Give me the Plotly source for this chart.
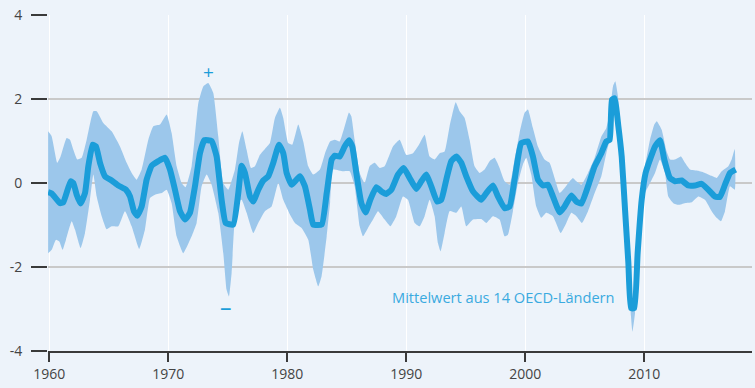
import plotly.graph_objects as go

# Mittelwert aus 14 OECD-Ländern
mean_years = [1959.9, 1960.2, 1960.9, 1961.18, 1961.79, 1962.02, 1962.3, 1962.63, 1963.0, 1963.28,
              1963.64, 1963.92, 1964.26, 1964.68, 1965.24, 1965.8, 1966.44, 1966.78, 1967.11, 1967.39,
              1967.76, 1968.18, 1968.6, 1969.16, 1969.72, 1970.14, 1970.56, 1970.98, 1971.4, 1971.82,
              1972.24, 1972.66, 1973.03, 1973.64, 1974.06, 1974.48, 1974.82, 1975.46, 1975.88, 1976.16,
              1976.44, 1976.86, 1977.14, 1977.56, 1977.98, 1978.4, 1978.82, 1979.3, 1979.66, 1979.94,
              1980.36, 1981.06, 1981.48, 1981.9, 1982.18, 1982.89, 1983.31, 1983.73, 1984.0, 1984.4,
              1984.82, 1985.18, 1985.46, 1985.8, 1986.22, 1986.58, 1986.97, 1987.48, 1987.9, 1988.32,
              1988.74, 1989.3, 1989.78, 1990.28, 1990.84, 1991.26, 1991.68, 1992.1, 1992.58, 1992.94,
              1993.36, 1993.78, 1994.2, 1994.62, 1995.04, 1995.6, 1996.3, 1996.72, 1997.28, 1997.7,
              1998.26, 1998.68, 1999.1, 1999.66, 2000.22, 2000.64, 2001.06, 2001.48, 2001.9, 2002.32,
              2002.89, 2003.3, 2003.87, 2004.29, 2004.71, 2005.27, 2005.83, 2006.39, 2006.81, 2007.09,
              2007.28, 2007.5, 2007.82, 2008.1, 2008.38, 2008.66, 2008.88, 2009.16, 2009.44, 2009.78,
              2010.11, 2010.48, 2010.9, 2011.32, 2011.68, 2012.16, 2012.58, 2013.14, 2013.7, 2014.26,
              2014.82, 2015.38, 2015.94, 2016.36, 2016.78, 2017.2, 2017.68]
mean_values = [-0.22, -0.25, -0.48, -0.46, 0.04, 0.0, -0.28, -0.49, -0.24, 0.4,
               0.91, 0.87, 0.48, 0.16, 0.06, -0.06, -0.16, -0.32, -0.67, -0.78,
               -0.56, 0.08, 0.41, 0.52, 0.6, 0.32, -0.16, -0.67, -0.87, -0.71,
               -0.08, 0.71, 1.02, 1.0, 0.63, -0.4, -0.95, -0.99, -0.24, 0.41,
               0.24, -0.32, -0.44, -0.16, 0.06, 0.16, 0.48, 0.91, 0.71, 0.24,
               -0.04, 0.16, -0.08, -0.63, -0.99, -0.99, -0.24, 0.56, 0.65, 0.63,
               0.87, 1.02, 0.87, 0.24, -0.48, -0.7, -0.4, -0.1, -0.2, -0.26,
               -0.16, 0.2, 0.36, 0.12, -0.14, 0.04, 0.2, -0.08, -0.44, -0.4,
               0.08, 0.52, 0.63, 0.48, 0.16, -0.2, -0.4, -0.24, -0.06, -0.32,
               -0.6, -0.56, 0.08, 0.95, 0.99, 0.63, 0.08, -0.06, -0.04, -0.32,
               -0.7, -0.56, -0.3, -0.44, -0.49, -0.08, 0.4, 0.71, 0.99, 1.03,
               1.98, 2.02, 1.35, 0.63, -0.63, -1.9, -2.98, -2.98, -1.67, -0.4,
               0.24, 0.56, 0.87, 1.02, 0.56, 0.12, 0.04, 0.06, -0.06, -0.06,
               -0.02, -0.16, -0.32, -0.33, -0.04, 0.24, 0.32]

# Obere Grenze der Bandbreite
upper_years = [1959.9, 1960.2, 1960.67, 1960.95, 1961.46, 1961.74, 1962.02, 1962.35, 1962.72, 1963.14,
               1963.7, 1963.98, 1964.54, 1965.24, 1965.94, 1966.5, 1966.92, 1967.34, 1967.76, 1968.32,
               1968.74, 1969.3, 1969.86, 1970.28, 1970.7, 1971.12, 1971.45, 1971.96, 1972.52, 1972.94,
               1973.36, 1973.78, 1974.2, 1974.62, 1975.04, 1975.6, 1975.94, 1976.22, 1976.58, 1976.95,
               1977.28, 1977.7, 1978.12, 1978.54, 1978.96, 1979.38, 1979.66, 1980.08, 1980.42, 1980.92,
               1981.34, 1981.76, 1982.18, 1982.74, 1983.17, 1983.59, 1983.98, 1984.4, 1984.82, 1985.18,
               1985.38, 1985.66, 1986.08, 1986.5, 1986.92, 1987.34, 1987.76, 1988.18, 1988.88, 1989.44,
               1990.0, 1990.56, 1991.06, 1991.54, 1991.96, 1992.38, 1992.8, 1993.22, 1993.64, 1994.15,
               1994.48, 1994.9, 1995.32, 1995.74, 1996.16, 1996.58, 1997.0, 1997.42, 1997.84, 1998.26,
               1998.68, 1999.1, 1999.52, 1999.94, 2000.22, 2000.64, 2001.06, 2001.62, 2002.04, 2002.46,
               2002.89, 2003.3, 2003.73, 2004.0, 2004.29, 2004.71, 2005.27, 2005.83, 2006.39, 2006.81,
               2007.09, 2007.37, 2007.56, 2007.79, 2008.1, 2008.38, 2008.66, 2008.88, 2009.16, 2009.36,
               2009.64, 2010.06, 2010.48, 2010.84, 2011.04, 2011.46, 2011.88, 2012.16, 2012.58, 2013.08,
               2013.42, 2013.84, 2014.54, 2015.1, 2015.66, 2016.08, 2016.5, 2017.06, 2017.34, 2017.6]
upper_values = [1.23, 1.11, 0.48, 0.63, 1.07, 1.03, 0.79, 0.56, 0.6, 1.03,
                1.71, 1.71, 1.43, 1.23, 0.87, 0.48, 0.24, 0.08, 0.32, 1.03,
                1.35, 1.39, 1.63, 1.19, 0.4, 0.0, -0.1, 0.4, 1.9, 2.3,
                2.38, 2.14, 1.11, 0.0, -0.16, 0.32, 0.95, 1.23, 0.79, 0.36,
                0.4, 0.67, 0.81, 0.95, 1.55, 1.79, 1.55, 0.95, 0.91, 1.39,
                0.99, 0.4, 0.2, 0.32, 0.71, 0.99, 1.03, 0.99, 1.35, 1.68,
                1.59, 1.03, 0.24, 0.0, 0.4, 0.48, 0.36, 0.4, 0.87, 1.03,
                0.67, 0.71, 0.91, 1.15, 0.63, 0.56, 0.71, 0.75, 1.35, 1.92,
                1.71, 1.55, 1.03, 0.4, 0.24, 0.32, 0.52, 0.6, 0.36, 0.04,
                -0.04, 0.56, 1.19, 1.67, 1.75, 1.31, 0.87, 0.56, 0.48, 0.12,
                -0.24, -0.12, 0.04, 0.12, 0.04, -0.04, 0.24, 0.6, 1.11, 1.31,
                1.67, 2.3, 2.42, 2.06, 0.79, -0.48, -1.75, -2.78, -2.78, -1.75,
                -0.56, 0.4, 1.03, 1.39, 1.47, 1.27, 0.75, 0.56, 0.56, 0.63,
                0.48, 0.32, 0.29, 0.24, 0.17, 0.12, 0.28, 0.4, 0.56, 0.81]

# Untere Grenze der Bandbreite
lower_years = [1959.9, 1960.2, 1960.56, 1960.84, 1961.12, 1961.4, 1961.88, 1962.16, 1962.63, 1963.0,
               1963.42, 1963.7, 1963.98, 1964.4, 1964.82, 1965.24, 1965.8, 1966.36, 1966.92, 1967.56,
               1968.04, 1968.46, 1968.88, 1969.44, 1969.86, 1970.28, 1970.7, 1971.26, 1971.96, 1972.38,
               1972.8, 1973.22, 1973.64, 1974.2, 1974.62, 1974.9, 1975.1, 1975.32, 1975.74, 1976.16,
               1976.58, 1977.14, 1977.56, 1978.12, 1978.68, 1979.24, 1979.66, 1980.22, 1980.64, 1981.2,
               1981.76, 1982.18, 1982.6, 1982.88, 1983.31, 1983.6, 1983.84, 1984.68, 1985.24, 1985.66,
               1986.08, 1986.36, 1986.78, 1987.2, 1987.62, 1988.18, 1988.66, 1989.16, 1989.72, 1990.14,
               1990.7, 1991.12, 1991.54, 1991.96, 1992.38, 1992.66, 1992.88, 1993.22, 1993.64, 1994.2,
               1994.62, 1995.04, 1995.6, 1996.3, 1996.72, 1997.28, 1997.84, 1998.26, 1998.54, 1998.96,
               1999.38, 1999.8, 2000.08, 2000.5, 2000.92, 2001.34, 2001.76, 2002.32, 2002.97, 2003.45,
               2003.87, 2004.29, 2004.76, 2005.27, 2005.83, 2006.39, 2006.81, 2007.09, 2007.28, 2007.5,
               2007.82, 2008.1, 2008.38, 2008.66, 2008.88, 2009.0, 2009.22, 2009.44, 2009.72, 2010.06,
               2010.48, 2010.9, 2011.32, 2011.74, 2012.02, 2012.44, 2012.86, 2013.42, 2013.98, 2014.54,
               2015.1, 2015.66, 2016.08, 2016.44, 2016.78, 2017.2, 2017.6]
lower_values = [-1.67, -1.59, -1.35, -1.39, -1.59, -1.35, -0.91, -1.11, -1.55, -1.19,
                -0.4, 0.2, -0.32, -0.79, -1.1, -1.03, -1.03, -0.67, -1.03, -1.57,
                -1.11, -0.36, -0.28, -0.24, -0.16, -0.48, -1.27, -1.67, -1.27, -0.95,
                -0.08, 0.2, -0.04, -0.71, -1.67, -2.54, -2.7, -2.14, -0.48, -0.4,
                -0.71, -1.19, -0.95, -0.67, -0.56, 0.0, -0.4, -0.75, -0.95, -1.07,
                -1.35, -2.06, -2.46, -2.22, -1.27, -0.45, 0.32, 0.28, 0.28, -0.08,
                -1.03, -1.27, -1.07, -0.87, -0.67, -0.87, -1.03, -0.79, -0.32, -0.4,
                -0.95, -1.03, -0.79, -0.4, -0.79, -1.43, -1.63, -1.19, -0.67, -0.71,
                -0.56, -1.03, -0.87, -0.86, -0.95, -0.79, -0.87, -1.27, -1.23, -0.67,
                0.0, 0.44, 0.6, 0.2, -0.56, -0.83, -0.71, -0.79, -1.19, -0.95,
                -0.71, -0.79, -0.95, -0.67, -0.24, 0.16, 0.71, 1.03, 1.83, 1.83,
                1.27, 0.32, -0.79, -1.83, -3.17, -3.54, -3.1, -1.9, -0.56, -0.24,
                0.0, 0.24, 0.56, 0.24, -0.32, -0.48, -0.52, -0.48, -0.46, -0.32,
                -0.4, -0.67, -0.83, -0.91, -0.67, -0.08, -0.16]

decades = [1960, 1970, 1980, 1990, 2000, 2010]
y_ticks = [-4, -2, 0, 2, 4]
y_labels = ["-4", "-2", "0", "2", "4"]

BG = "#edf3fa"
LINE = "#1b9dd9"
BAND = "#9cc7eb"
AXIS = "#3a3a3a"
FONT = "Open Sans"

fig = go.Figure()

fig.add_trace(go.Scatter(
    x=upper_years + lower_years[::-1],
    y=upper_values + lower_values[::-1],
    fill="toself", fillcolor=BAND,
    mode="lines", line=dict(width=0, shape="spline", smoothing=0.4),
    hoverinfo="skip", showlegend=False,
))

fig.add_trace(go.Scatter(
    x=mean_years, y=mean_values,
    mode="lines", line=dict(color=LINE, width=6, shape="spline", smoothing=0.4),
    showlegend=False,
))

fig.add_annotation(x=1973.36, y=2.65, text="+", showarrow=False,
                   font=dict(family=FONT, size=19, color=LINE))
fig.add_annotation(x=1974.87, y=-2.95, text="–", showarrow=False,
                   font=dict(family=FONT, size=23, color=LINE))
fig.add_annotation(x=1998.18, y=-2.71, text="Mittelwert aus 14 OECD-Ländern", showarrow=False,
                   font=dict(family=FONT, size=14.6, color="#3aaae0"))

fig.update_layout(
    width=755, height=388,
    margin=dict(l=48, r=3, t=15, b=37),
    paper_bgcolor=BG, plot_bgcolor=BG,
    font=dict(family=FONT, size=14, color="#444444"),
)

fig.update_xaxes(
    range=[1959.89, 2019.05],
    tickvals=decades, ticktext=[str(d) for d in decades],
    ticks="outside", ticklen=9, tickwidth=1.5, tickcolor=AXIS,
    showline=True, linecolor=AXIS, linewidth=1.5,
    showgrid=True, gridcolor="#ffffff", gridwidth=1,
    zeroline=False,
)
fig.update_yaxes(
    range=[-4, 4],
    tickvals=y_ticks, ticktext=y_labels,
    ticks="outside", ticklen=16, tickwidth=1.5, tickcolor=AXIS,
    ticklabelstandoff=6,
    showline=False,
    showgrid=True, gridcolor="#c9c9c9", gridwidth=1.5,
    zeroline=False,
)

fig.write_html("out.html")
